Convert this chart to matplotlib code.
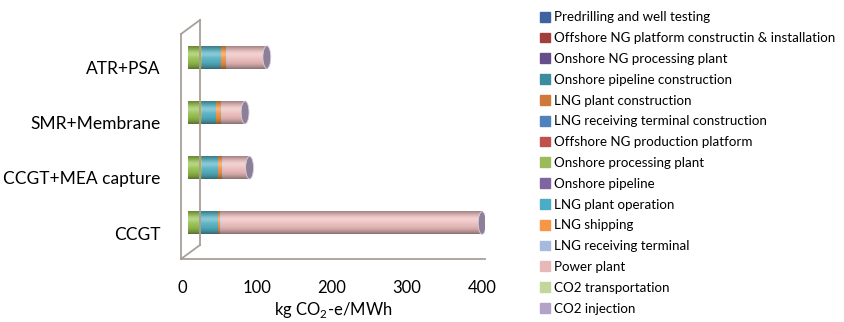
import numpy as np
import matplotlib
matplotlib.use("Agg")
import matplotlib.pyplot as plt
from matplotlib.patches import Ellipse
from matplotlib.lines import Line2D
from matplotlib.colors import to_rgb
import matplotlib.transforms as mtransforms

plt.rcParams['font.family'] = ['Lato', 'DejaVu Sans']
plt.rcParams['mathtext.fontset'] = 'custom'
plt.rcParams['mathtext.rm'] = 'Lato'

# data (kg CO2-e/MWh), bottom to top
cases = ['CCGT', 'CCGT+MEA capture', 'SMR+Membrane', 'ATR+PSA']
stages = ['Predrilling and well testing',
          'Offshore NG platform constructin & installation',
          'Onshore NG processing plant',
          'Onshore pipeline construction',
          'LNG plant construction',
          'LNG receiving terminal construction',
          'Offshore NG production platform',
          'Onshore processing plant',
          'Onshore pipeline',
          'LNG plant operation',
          'LNG shipping',
          'LNG receiving terminal',
          'Power plant',
          'CO2 transportation',
          'CO2 injection']
colors = ['#4f81bd', '#c0504d', '#8064a2', '#4bacc6', '#f79646', '#4f81bd',
          '#c0504d', '#9bc653', '#8064a2', '#58b6c8', '#f79646', '#c2cde6',
          '#f2c2c2', '#d6e6b0', '#c9bcd8']
legend_colors = ['#3d64a0', '#a23f3c', '#654e8a', '#3a8c9e', '#d07a3a', '#4f81bd',
                 '#c0504d', '#9bbb59', '#8064a2', '#4bacc6', '#f79646', '#a7b9dc',
                 '#e6b9b8', '#c3d69b', '#b3a2c7']

# construction stages and onshore pipeline are too small to see
predrilling = [0, 0, 0, 0]
offshore_constr = [0, 0, 0, 0]
onshore_ng_plant = [0, 0, 0, 0]
pipeline_constr = [0, 0, 0, 0]
lng_plant_constr = [0, 0, 0, 0]
lng_term_constr = [0, 0, 0, 0]
offshore_platform = [0, 0, 0, 0]
onshore_processing = [15, 19, 19, 19]
onshore_pipeline = [0, 0, 0, 0]
lng_operation = [25, 21, 18, 25]
lng_shipping = [3, 6, 7, 7]
lng_terminal = [1.2, 1.2, 1.2, 1.2]
power_plant = [348, 33, 29, 51]
co2_transport = [0, 1.5, 1.5, 1.5]
co2_injection = [0, 0.4, 0.4, 0.4]

series = [predrilling, offshore_constr, onshore_ng_plant, pipeline_constr,
          lng_plant_constr, lng_term_constr, offshore_platform,
          onshore_processing, onshore_pipeline, lng_operation, lng_shipping,
          lng_terminal, power_plant, co2_transport, co2_injection]

W, H = 844, 322
fig = plt.figure(figsize=(W / 100, H / 100), dpi=100)


def fx(x):
    return x / W


def fy(y):
    return 1 - y / H


ax = fig.add_axes([fx(181), fy(259), (485 - 181) / W, (259 - 34) / H])
for s in ax.spines.values():
    s.set_visible(False)

# 3D depth shift for the bars
shift = ax.transData + mtransforms.ScaledTranslation(0.06, 0.10, fig.dpi_scale_trans)

# cylinder shading profile, bottom -> top
t = np.linspace(0, 1, 40)
dark = 0.32 * (1 - np.sin(np.pi * t)) ** 1.5 + 0.10 * (1 - t) ** 2
light = 0.30 * np.exp(-((t - 0.66) / 0.16) ** 2)

y = np.arange(len(cases))
bh = 0.41
left = np.zeros(len(cases))
for vals, c in zip(series, colors):
    rgb = np.array(to_rgb(c))
    shade = rgb[None, :] * (1 - dark[:, None])
    shade = shade + (1 - shade) * light[:, None]
    img = np.clip(shade, 0, 1)[:, None, :]
    for i, v in enumerate(vals):
        if v <= 0:
            continue
        im = ax.imshow(img, extent=(left[i], left[i] + v, y[i] - bh / 2, y[i] + bh / 2),
                       origin='lower', aspect='auto', interpolation='bilinear',
                       zorder=3)
        im.set_transform(shift)
    left += np.array(vals)
totals = left.copy()
ax.set_xlim(-1.33, 404)
ax.set_ylim(-0.47, 3.6)

# end caps
for yi, tot in zip(y, totals):
    e = Ellipse((tot, yi), width=10.5, height=bh, facecolor='#8d7f98',
                edgecolor='#d8cfe0', linewidth=0.6, transform=shift, zorder=5)
    ax.add_patch(e)

# 3D frame lines
fc = '#a89f98'
frame = [((181, 259), (181, 34)), ((181, 34), (200, 20)),
         ((200, 245), (200, 20)), ((200, 245), (181, 259)),
         ((181, 259), (485, 259))]
for (x0, y0), (x1, y1) in frame:
    z = 1 if x0 == x1 == 200 else 6
    fig.add_artist(Line2D([fx(x0), fx(x1)], [fy(y0), fy(y1)], color=fc,
                          lw=1.3, transform=fig.transFigure, zorder=z))

ax.set_xticks([0, 100, 200, 300, 400])
ax.set_yticks(y)
ax.set_yticklabels(cases)
ax.tick_params(axis='x', length=0, pad=15, labelsize=12)
ax.tick_params(axis='y', length=0, pad=15, labelsize=12.5)
ax.set_xlabel('kg CO$_2$-e/MWh', fontsize=12, labelpad=3)

handles = [plt.Rectangle((0, 0), 1, 1, color=c) for c in legend_colors]
fig.legend(handles, stages, loc='upper left', bbox_to_anchor=(fx(535), fy(6)),
           frameon=False, fontsize=9.6, handlelength=0.75, handleheight=0.75,
           handletextpad=0.3, labelspacing=0.66, borderaxespad=0)

fig.savefig('out.png', dpi=100)
